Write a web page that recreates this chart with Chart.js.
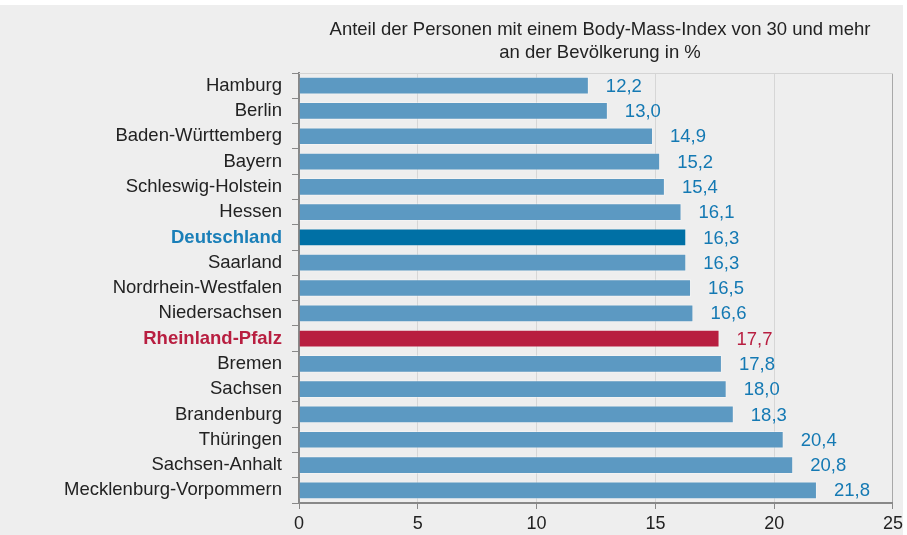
<!DOCTYPE html>
<html lang="de">
<head>
<meta charset="utf-8">
<title>Adipositas nach Ländern</title>
<script src="https://cdn.jsdelivr.net/npm/chart.js@4"></script>
<style>
    html, body { margin: 0; padding: 0; background: #ffffff; }
    #wrap { position: absolute; left: 0; top: 5px; width: 907px; height: 530px; background: #eeeeee; }
    #edge { position: absolute; left: 903px; top: 0; width: 4px; height: 535px; background: #ffffff; }
</style>
</head>
<body>
<div id="wrap"><canvas id="bmiChart" width="907" height="530"></canvas></div>
<div id="edge"></div>
<script>
// Data
const regions = [
    'Hamburg', 'Berlin', 'Baden-Württemberg', 'Bayern', 'Schleswig-Holstein', 'Hessen',
    'Deutschland', 'Saarland', 'Nordrhein-Westfalen', 'Niedersachsen', 'Rheinland-Pfalz',
    'Bremen', 'Sachsen', 'Brandenburg', 'Thüringen', 'Sachsen-Anhalt', 'Mecklenburg-Vorpommern'
];
const shares = [12.2, 13.0, 14.9, 15.2, 15.4, 16.1, 16.3, 16.3, 16.5, 16.6, 17.7, 17.8, 18.0, 18.3, 20.4, 20.8, 21.8];
const xTicks = [0, 5, 10, 15, 20, 25];
const titleLines = [
    'Anteil der Personen mit einem Body-Mass-Index von 30 und mehr',
    'an der Bevölkerung in %'
];

const FONT = '"Liberation Sans", Arial, sans-serif';
const BAR = '#5c99c2';
const BAR_DE = '#0070a5';
const BAR_RP = '#b81e40';
const TEXT_BLUE = '#1479b3';

function barColor(i) {
    if (regions[i] === 'Deutschland') return BAR_DE;
    if (regions[i] === 'Rheinland-Pfalz') return BAR_RP;
    return BAR;
}

// Value labels, title and top frame line
const extrasPlugin = {
    id: 'extras',
    afterDatasetsDraw(chart) {
        const ctx = chart.ctx;
        const area = chart.chartArea;
        ctx.save();
        ctx.strokeStyle = '#d4d4d4';
        ctx.lineWidth = 1;
        ctx.beginPath();
        ctx.moveTo(area.left, area.top + 0.5);
        ctx.lineTo(area.right, area.top + 0.5);
        ctx.stroke();

        ctx.font = '18.5px ' + FONT;
        ctx.textBaseline = 'middle';
        ctx.textAlign = 'left';
        chart.getDatasetMeta(0).data.forEach((bar, i) => {
            ctx.fillStyle = regions[i] === 'Rheinland-Pfalz' ? BAR_RP : TEXT_BLUE;
            ctx.fillText(shares[i].toFixed(1).replace('.', ','), bar.x + 17, bar.y + 1);
        });

        ctx.fillStyle = '#222222';
        ctx.font = '18.5px ' + FONT;
        ctx.textAlign = 'center';
        titleLines.forEach((line, i) => {
            ctx.fillText(line, 600, 25 + i * 23);
        });
        ctx.restore();
    }
};

new Chart(document.getElementById('bmiChart'), {
    type: 'bar',
    data: {
        labels: regions,
        datasets: [{
            data: shares,
            backgroundColor: regions.map((r, i) => barColor(i)),
            borderColor: 'rgba(255, 255, 255, 0.3)',
            borderWidth: 1,
            barPercentage: 0.7,
            categoryPercentage: 1
        }]
    },
    options: {
        indexAxis: 'y',
        responsive: false,
        animation: false,
        layout: { padding: { top: 68, right: 0, left: 0, bottom: 0 } },
        plugins: {
            legend: { display: false },
            tooltip: { enabled: false }
        },
        scales: {
            x: {
                min: 0,
                max: 25,
                afterBuildTicks: scale => { scale.ticks = xTicks.map(v => ({ value: v })); },
                afterFit: scale => { scale.height = 32; },
                ticks: {
                    color: '#222222',
                    font: { family: FONT, size: 18 },
                    padding: 4
                },
                grid: {
                    color: c => (c.tick && c.tick.value === 25 ? '#a8a8a8' : '#d6d6d6'),
                    tickColor: '#888888',
                    tickLength: 6
                },
                border: { color: '#888888', width: 2 }
            },
            y: {
                afterFit: scale => { scale.width = 299; },
                ticks: {
                    color: c => {
                        const r = regions[c.index];
                        if (r === 'Deutschland') return '#1a7fb8';
                        if (r === 'Rheinland-Pfalz') return BAR_RP;
                        return '#222222';
                    },
                    font: c => {
                        const r = regions[c.index];
                        const bold = r === 'Deutschland' || r === 'Rheinland-Pfalz';
                        return { family: FONT, size: 18.5, weight: bold ? 'bold' : 'normal' };
                    },
                    padding: 10
                },
                grid: {
                    offset: true,
                    drawOnChartArea: false,
                    tickColor: '#888888',
                    tickLength: 7
                },
                border: { color: '#888888', width: 2 }
            }
        }
    },
    plugins: [extrasPlugin]
});
</script>
</body>
</html>
